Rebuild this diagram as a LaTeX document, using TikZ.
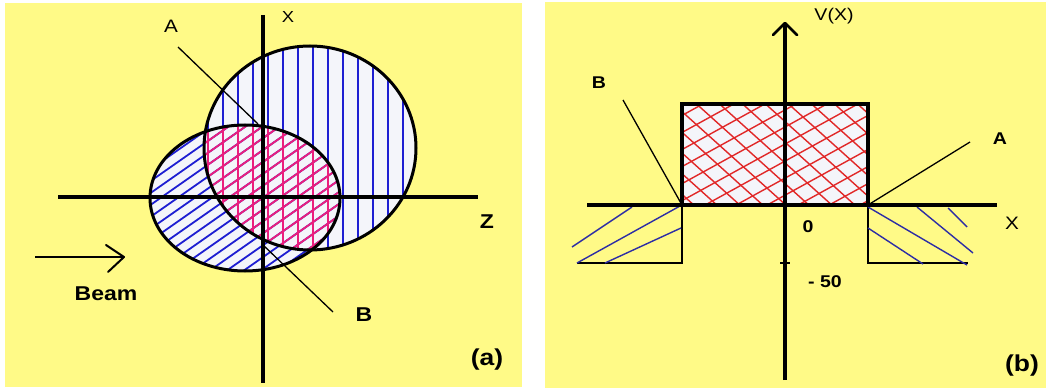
\documentclass[tikz,border=0pt]{standalone}
\usepackage{fontspec}
\setmainfont[FakeStretch=1.15]{Liberation Sans}
\definecolor{yellowbg}{RGB}{255,250,135}
\definecolor{fillw}{RGB}{244,245,250}
\definecolor{blueh}{RGB}{30,30,210}
\definecolor{pinkh}{RGB}{235,30,125}
\definecolor{redh}{RGB}{225,40,40}
\definecolor{blueb}{RGB}{45,45,165}
\tikzset{
  axis/.style={line width=3.2pt},
  outline/.style={line width=3pt},
  hatch/.style={line width=1.8pt},
  hatchthin/.style={line width=1.4pt},
  leader/.style={line width=1.3pt},
  lbl/.style={font=\fontsize{17}{19}\selectfont, inner sep=0pt},
  lblb/.style={font=\fontsize{17}{19}\selectfont\bfseries, inner sep=0pt},
  tag/.style={font=\fontsize{23}{26}\selectfont\bfseries, inner sep=0pt}
}
\begin{document}
\begin{tikzpicture}[x=1pt,y=-1pt]
\useasboundingbox (0,0) rectangle (1049,390);
\fill[white] (0,0) rectangle (1049,390);
\fill[yellowbg] (5,3) rectangle (522,387);
\fill[yellowbg] (545,2) rectangle (1046,388);

% ---------- panel (a) ----------
\fill[fillw] (310,148) ellipse [x radius=106, y radius=102];
\fill[fillw] (245,198) ellipse [x radius=95, y radius=73];
\begin{scope}
  \clip (310,148) ellipse [x radius=106, y radius=102];
  \foreach \x in {208,223,...,408} \draw[blueh,hatch] (\x,40) -- (\x,260);
\end{scope}
\begin{scope}
  \clip (245,198) ellipse [x radius=95, y radius=73];
  \foreach \a in {-90,-73,...,340} \draw[blueh,hatch] (\a,290) -- ++(250,-175);
\end{scope}
\begin{scope}
  \clip (310,148) ellipse [x radius=106, y radius=102];
  \clip (245,198) ellipse [x radius=95, y radius=73];
  \foreach \x in {208,223,...,408} \draw[pinkh,hatch] (\x,40) -- (\x,260);
  \foreach \a in {-90,-73,...,340} \draw[pinkh,hatch] (\a,290) -- ++(250,-175);
\end{scope}
\draw[outline] (310,148) ellipse [x radius=106, y radius=102];
\draw[outline] (245,198) ellipse [x radius=95, y radius=73];
\draw[axis] (58,197) -- (478,197);
\draw[axis] (263,15) -- (263,383);

\node[lbl, font=\fontsize{16}{18}\selectfont] (xa) at (288,17) {X};
\node[lblb, font=\fontsize{20}{22}\selectfont\bfseries] (za) at (487,222) {Z};
\node[lbl, font=\fontsize{18}{20}\selectfont] (aa) at (171,26) {A};
\node[lblb, font=\fontsize{20}{22}\selectfont\bfseries] (ba) at (364,315) {B};
\node[font=\fontsize{20}{22}\selectfont\bfseries, inner sep=0pt] (beam) at (106,294) {Beam};
\node[tag] (taga) at (487,360) {(a)};

\coordinate (aA1) at (178,47);
\coordinate (aA2) at (258,124);
\coordinate (aB1) at (263,245);
\coordinate (aB2) at (333,312);
\draw[leader] (aA1) -- (aA2);
\draw[leader] (aB1) -- (aB2);

\coordinate (bm1) at (35,257);
\coordinate (bm2) at (124,257);
\coordinate (bmu) at (106,245);
\coordinate (bmd) at (108,272);
\draw[line width=2pt] (bm1) -- (bm2);
\draw[line width=2pt, line cap=round, line join=round] (bmu) -- (bm2) -- (bmd);

% ---------- panel (b) ----------
\fill[fillw] (682,104) rectangle (868,205);
\begin{scope}
  \clip (682,104) rectangle (868,205);
  \foreach \a in {520,543,...,880} \draw[redh,hatchthin] (\a,90) -- ++(150,135);
  \foreach \a in {470,501,...,880} \draw[redh,hatchthin] (\a,215) -- ++(200,-110);
\end{scope}
\draw[axis] (682,205) -- (682,104) -- (868,104) -- (868,205);
\draw[line width=2.6pt] (577,263) -- (682,263) -- (682,205);
\draw[line width=2.6pt] (868,205) -- (868,263) -- (968,263);

% blue hatching outside the well
\draw[blueb,hatchthin] (572,247) -- (632,207);
\draw[blueb,hatchthin] (577,263) -- (680,206);
\draw[blueb,hatchthin] (605,263) -- (681,228);
\draw[blueb,hatchthin] (868,207) -- (967,265);
\draw[blueb,hatchthin] (868,228) -- (923,264);
\draw[blueb,hatchthin] (917,207) -- (973,253);
\draw[blueb,hatchthin] (948,208) -- (967,227);

\draw[axis] (587,205) -- (997,205);
\coordinate (vtip) at (785,23);
\coordinate (vbot) at (785,380);
\draw[axis] (vbot) -- (vtip);
\coordinate (vl) at (773,35);
\coordinate (vr) at (797,35);
\draw[line width=2.8pt, line cap=round, line join=round] (vl) -- (vtip) -- (vr);
\coordinate (tk1) at (780,263);
\coordinate (tk2) at (790,263);
\draw[line width=2pt] (tk1) -- (tk2);

\node[lbl] (vx) at (834,16) {V(X)};
\node[lbl, font=\fontsize{18}{20}\selectfont] (xb) at (1012,223) {X};
\node[lblb] (zero) at (808,227) {0};
\node[lblb] (m50) at (825,282) {- 50};
\node[lblb] (bb) at (599,83) {B};
\node[lblb] (ab) at (1000,139) {A};
\node[tag] (tagb) at (1022,366) {(b)};

\coordinate (bB1) at (623,100);
\coordinate (bB2) at (682,205);
\coordinate (bA1) at (868,205);
\coordinate (bA2) at (970,142);
\draw[leader] (bB1) -- (bB2);
\draw[leader] (bA1) -- (bA2);
\end{tikzpicture}
\end{document}
